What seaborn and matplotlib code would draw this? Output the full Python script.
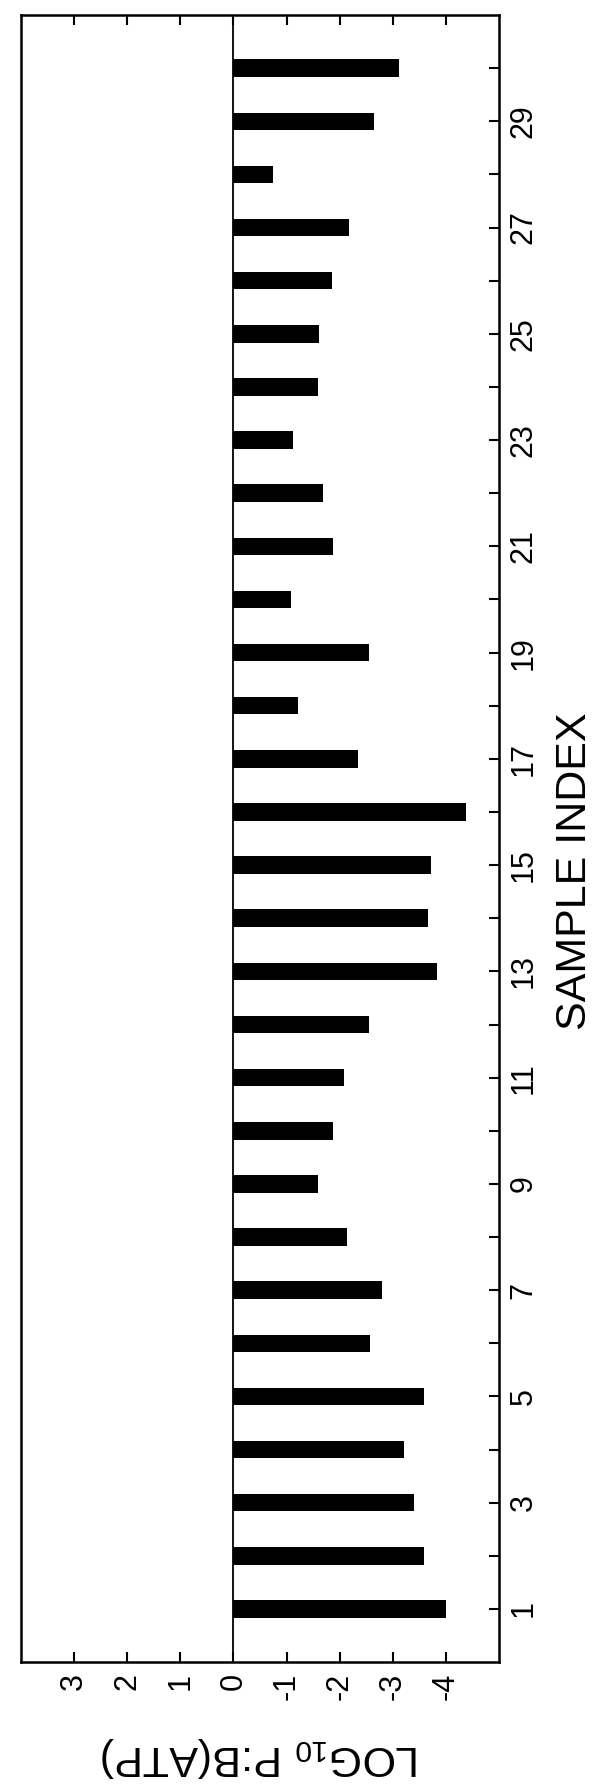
import matplotlib
matplotlib.use("Agg")
import matplotlib.pyplot as plt
import seaborn as sns
import pandas as pd

# Log10 P:B ratio (ATP) for each sample
sample_index = list(range(1, 31))
log_pb_atp = [-4.00, -3.58, -3.40, -3.22, -3.59, -2.57, -2.79, -2.14, -1.60, -1.88,
              -2.08, -2.55, -3.83, -3.66, -3.72, -4.38, -2.34, -1.22, -2.56, -1.08,
              -1.88, -1.68, -1.12, -1.59, -1.61, -1.86, -2.17, -0.75, -2.65, -3.11]

value_ticks = [3, 2, 1, 0, -1, -2, -3, -4]
value_tick_labels = ["3", "2", "1", "0", "-1", "-2", "-3", "-4"]
labelled_samples = list(range(1, 30, 2))
unlabelled_samples = list(range(2, 31, 2))

sns.set_style("white")
plt.rcParams["font.family"] = ["Liberation Sans", "DejaVu Sans"]
plt.rcParams["mathtext.default"] = "regular"

fig = plt.figure(figsize=(5.98, 17.87), dpi=100)
ax = fig.add_axes([0.0351, 0.0699, 0.7993, 0.9217])

df = pd.DataFrame({"sample": sample_index, "log_pb": log_pb_atp})
sns.barplot(data=df, x="log_pb", y="sample", orient="h", native_scale=True,
            color="black", saturation=1, width=0.33, errorbar=None,
            linewidth=0, ax=ax)

ax.axvline(0, color="black", lw=1.3, zorder=3)
ax.set_xlim(4, -5)
ax.set_ylim(0, 31)

ax.set_xticks(value_ticks, value_tick_labels)
ax.yaxis.tick_right()
ax.set_yticks(labelled_samples, [str(s) for s in labelled_samples])
ax.set_yticks(unlabelled_samples, minor=True)

ax.tick_params(axis="x", which="major", direction="in", length=7, width=1.5,
               top=True, bottom=True, labeltop=False, labelbottom=True,
               labelrotation=90, labelsize=22, pad=8, colors="black")
ax.tick_params(axis="y", which="both", direction="in", length=7, width=1.5,
               left=False, right=True, labelleft=False, labelright=True,
               labelrotation=90, labelsize=22, pad=7, colors="black")
for lab in ax.get_yticklabels():
    lab.set_va("center")

for sp in ax.spines.values():
    sp.set_linewidth(1.8)
    sp.set_color("black")

ax.set_xlabel("LOG$_{10}$ P:B(ATP)", fontsize=31, rotation=180,
              ha="center", va="center", color="black")
ax.xaxis.set_label_coords(0.502, -0.0577)
ax.yaxis.set_label_position("right")
ax.set_ylabel("SAMPLE INDEX", fontsize=31, rotation=90,
              ha="center", va="center", color="black")
ax.yaxis.set_label_coords(1.159, 0.48)

fig.savefig("out.png", dpi=100)
